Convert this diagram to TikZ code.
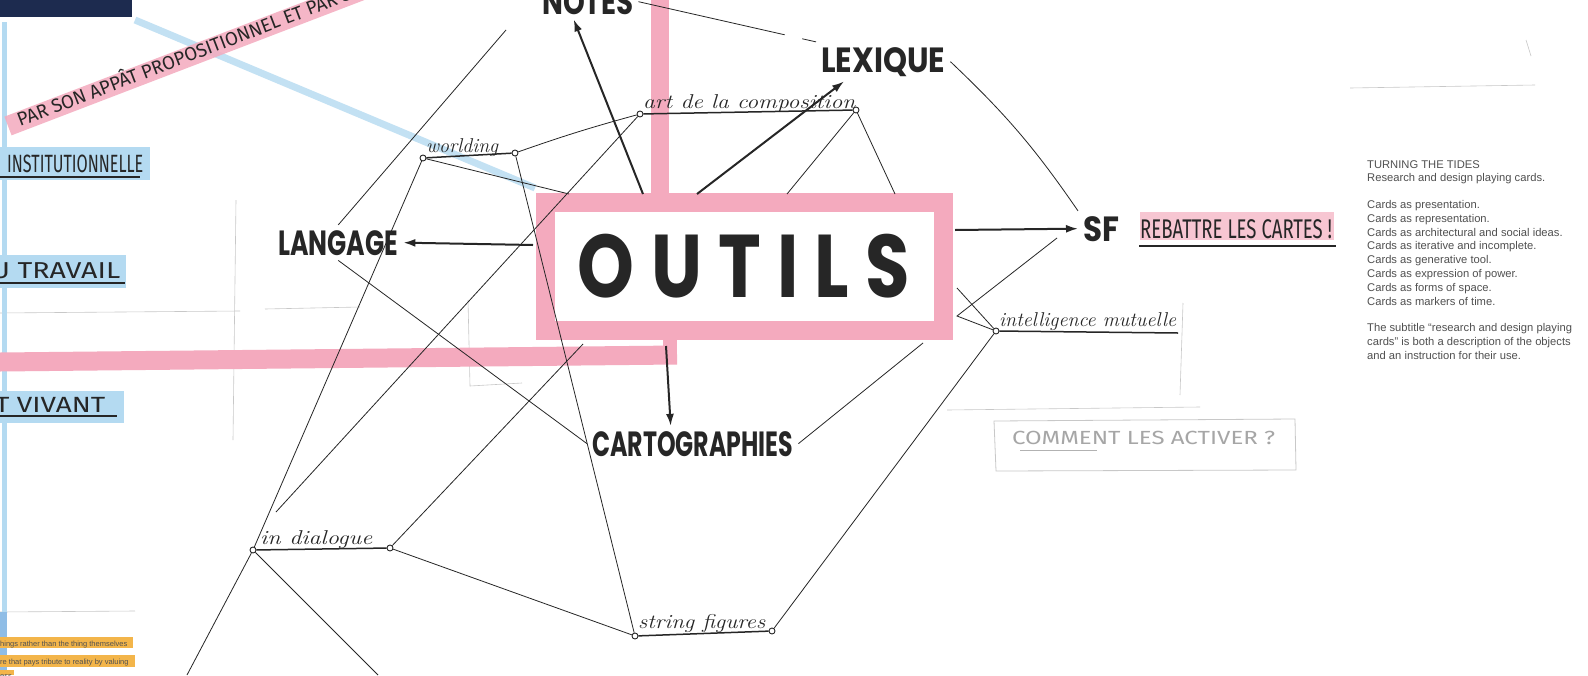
\documentclass[tikz,border=0pt]{standalone}
\usepackage{fontspec}
\usepackage{graphicx}
\usetikzlibrary{positioning, arrows.meta}
\newfontfamily\markerfont{Poppins}
\newfontfamily\thincaps{Fira Sans}
\newfontfamily\printfont{Liberation Sans}
\definecolor{ink}{HTML}{262626}
\definecolor{pinkM}{HTML}{F4AABE}
\definecolor{pinkL}{HTML}{F7C6D2}
\definecolor{blueM}{HTML}{B4DAF1}
\definecolor{blueD}{HTML}{8FBDE6}
\definecolor{navy}{HTML}{1D2B4F}
\definecolor{orangeM}{HTML}{F3B54A}
\definecolor{printgray}{HTML}{505050}
\definecolor{pencil}{HTML}{C8C8C8}
% squeeze a word to a given width, keeping its height
\newcommand{\squeeze}[2]{\resizebox{#1pt}{\height}{#2}}

\begin{document}
\begin{tikzpicture}[x=1pt, y=-1pt,
  bigword/.style={font=\markerfont\bfseries\fontsize{35}{35}\selectfont, text=ink, inner sep=5pt},
  capword/.style={font=\thincaps\fontsize{24}{24}\selectfont, text=ink, inner sep=0pt},
  penword/.style={font=\itshape\fontsize{20}{20}\selectfont, text=ink, inner sep=0pt},
  ring/.style={circle, draw=ink, line width=0.9pt, fill=white, inner sep=0pt, minimum size=6pt},
  underl/.style={draw=ink, line width=1.5pt},
  penline/.style={draw=ink, line width=0.8pt},
  sketch/.style={draw=pencil, line width=0.6pt},
  markarrow/.style={draw=ink, line width=2pt, -{Latex[length=12pt, width=8pt]}},
  printed/.style={font=\printfont\fontsize{11.2}{13.9}\selectfont, text=printgray, align=left, inner sep=0pt}]
\useasboundingbox (0,0) rectangle (1588,675);
\fill[white] (0,0) rectangle (1588,675);

% pencil traces
\draw[sketch] (0,313) -- (240,311);
\draw[sketch] (265,309) -- (360,307);
\draw[sketch] (236,200) -- (233,440);
\draw[sketch] (468,300) -- (470,386) -- (522,383);
\draw[sketch] (947,410) -- (1200,407);
\draw[sketch] (1183,303) -- (1180,395);
\draw[sketch] (1350,88) -- (1535,85);
\draw[sketch] (1526,40) -- (1531,56);
\draw[sketch] (0,612) -- (135,611);

% highlighter strokes
\fill[navy] (0,0) rectangle (132,17);
\draw[blueM, line width=5pt] (4,22) -- (4,612);
\fill[blueD] (0,612) rectangle (7,675);
\draw[blueM, line width=7pt, opacity=.8] (135,20) -- (535,188);
\draw[pinkM, line width=20pt, opacity=.85] (8,126) -- (420,-32);
\draw[pinkM, line width=18pt] (660,0) -- (660,196);
\draw[pinkM, line width=19pt] (0,362) -- (677,355);
\draw[pinkM, line width=14pt] (670,340) -- (670,358);
\fill[blueM] (0,147) rectangle (150,180);
\fill[blueM] (0,255) rectangle (126,288);
\fill[blueM] (0,391) rectangle (124,423);
\fill[pinkL] (1140,212) rectangle (1334,240);
\fill[orangeM] (0,637) rectangle (133,648);
\fill[orangeM] (0,655) rectangle (135,667);
\fill[orangeM] (0,670) rectangle (14,675);

% the central box
\node[draw=pinkM, fill=white, line width=19pt, minimum width=398pt, minimum height=128pt, inner sep=0pt,
  font=\markerfont\bfseries\fontsize{89}{89}\selectfont, text=ink] (outils) at (744,266)
  {\squeeze{332}{O\hspace{20pt}U\hspace{20pt}T\hspace{20pt}I\hspace{20pt}L\hspace{20pt}S}};

% branch words
\node[bigword, anchor=base west] (notes) at (537,14) {\squeeze{91}{NOTES}};
\node[bigword, anchor=base west] (lexique) at (816,72) {\squeeze{124}{LEXIQUE}};
\node[bigword, anchor=base west] (langage) at (273,255) {\squeeze{120}{LANGAGE}};
\node[bigword, anchor=base west] (sf) at (1078,241) {\squeeze{36}{SF}};
\node[bigword, anchor=base west] (carto) at (587,456) {\squeeze{201}{CARTOGRAPHIES}};

\coordinate (o-notes) at (643,194);
\coordinate (o-lex) at (697,194);
\coordinate (o-lang) at (533,245);
\coordinate (o-sf) at (955,230);
\coordinate (o-carto) at (666,346);
\draw[markarrow] (o-notes) -- ([xshift=-14pt]notes.south);
\draw[markarrow] (o-lex) -- ([xshift=28pt]lexique.south west);
\draw[markarrow] (o-lang) -- (langage.east);
\draw[markarrow] (o-sf) -- (sf.west);
\draw[markarrow] (o-carto) -- ([xshift=-22pt]carto.north);

% hand written keywords
\node[ring] (wl-a) at (423,158) {};
\node[ring] (wl-b) at (515,153) {};
\node[penword, anchor=base west] (worlding) at (426,152) {\squeeze{72}{worlding}};
\node[ring] (ac-a) at (640,114) {};
\node[ring] (ac-b) at (856,110) {};
\node[penword, anchor=base west] (art) at (643,108) {\squeeze{212}{art de la composition}};
\node[ring] (im-a) at (996,331) {};
\coordinate (im-b) at (1178,333);
\node[penword, anchor=base west] (intel) at (999,326) {\squeeze{177}{intelligence mutuelle}};
\node[ring] (id-a) at (253,550) {};
\node[ring] (id-b) at (390,548) {};
\node[penword, anchor=base west] (dialogue) at (260,544) {\squeeze{112}{in dialogue}};
\node[ring] (sg-a) at (635,636) {};
\node[ring] (sg-b) at (772,631) {};
\node[penword, anchor=base west] (string) at (638,628) {\squeeze{127}{string figures}};
\draw[underl] (wl-a) -- (wl-b);
\draw[underl] (ac-a) -- (ac-b);
\draw[underl] (im-a) -- (im-b);
\draw[underl] (id-a) -- (id-b);
\draw[underl] (sg-a) -- (sg-b);

% pen links
\coordinate (t1) at (506,30);
\coordinate (o-w) at (569,194);
\coordinate (o-sw) at (583,344);
\coordinate (o-se) at (923,343);
\coordinate (o-ne) at (895,194);
\coordinate (o-n2) at (787,194);
\coordinate (o-e) at (957,288);
\coordinate (kink) at (957,316);
\coordinate (sf-in) at (1057,238);
\coordinate (b-end) at (276,512);
\coordinate (bot-l) at (187,675);
\coordinate (bot-r) at (378,675);
\draw[penline] (t1) -- (langage.north);
\draw[penline] (langage.south) -- (carto.west);
\draw[penline] (wl-a) -- (id-a);
\draw[penline] (wl-a) -- (o-w);
\draw[penline] (wl-b) to[bend left=2] (ac-a);
\draw[penline] (wl-b) -- (sg-a);
\draw[penline] (ac-a) -- (b-end);
\draw[penline] (ac-b) -- (o-ne);
\draw[penline] (ac-b) -- (o-n2);
\draw[penline] (id-b) -- (o-sw);
\draw[penline] (id-b) -- (sg-a);
\draw[penline] (id-a) -- (bot-l);
\draw[penline] (id-a) -- (bot-r);
\draw[penline] (sg-b) -- (im-a);
\draw[penline] (carto.east) -- (o-se);
\draw[penline] (o-e) -- (im-a);
\draw[penline] (sf-in) -- (kink) -- (im-a);
\draw[penline] (lexique.east) to[bend left=6] (sf.north west);
\draw[penline, dash pattern=on 150pt off 18pt] (notes.east) -- (lexique.north west);

% side notes in capitals
\node[capword, rotate=21, anchor=base west, font=\thincaps\fontsize{19}{19}\selectfont] (appat) at (20,127)
  {\squeeze{382}{PAR SON APPÂT PROPOSITIONNEL ET PAR SON}};
\node[capword, anchor=base west, font=\thincaps\fontsize{25}{25}\selectfont] (inst) at (7,172) {\squeeze{136}{INSTITUTIONNELLE}};
\node[capword, anchor=base west, font=\thincaps\fontsize{23}{23}\selectfont] (travail) at (-9,278) {\squeeze{129}{U TRAVAIL}};
\node[capword, anchor=base west, font=\thincaps\fontsize{22}{22}\selectfont] (vivant) at (-5,412) {\squeeze{110}{T VIVANT}};
\node[capword, anchor=base west, font=\thincaps\fontsize{27}{27}\selectfont] (rebattre) at (1140,238) {\squeeze{192}{REBATTRE LES CARTES !}};
\node[capword, anchor=base west, font=\thincaps\fontsize{19}{19}\selectfont, text=gray!70] (activer) at (1012,444) {\squeeze{263}{COMMENT LES ACTIVER ?}};
\draw[ink, line width=1.4pt] (0,177) -- (140,177);
\draw[ink, line width=1.4pt] (0,283) -- (125,283);
\draw[ink, line width=1.4pt] (0,416) -- (117,416);
\draw[ink, line width=1.2pt] (1139,246) -- (1336,246);
\draw[gray!60, line width=0.8pt] (1020,450) -- (1097,450);
\draw[pencil, line width=0.8pt] (994,421) -- (1295,419) -- (1296,470) -- (996,471) -- cycle;

% printed cuttings
\node[printed, anchor=north west] (tides) at (1367,160) {TURNING THE TIDES\\
Research and design playing cards.\\[12.4pt]
Cards as presentation.\\
Cards as representation.\\
Cards as architectural and social ideas.\\
Cards as iterative and incomplete.\\
Cards as generative tool.\\
Cards as expression of power.\\
Cards as forms of space.\\
Cards as markers of time.\\[12.4pt]
The subtitle “research and design playing\\
cards” is both a description of the objects\\
and an instruction for their use.};
\node[printed, anchor=base west, font=\printfont\fontsize{7.5}{7.5}\selectfont, text=ink!80] (cut1) at (0,646) {hings rather than the thing themselves};
\node[printed, anchor=base west, font=\printfont\fontsize{7.5}{7.5}\selectfont, text=ink!80] (cut2) at (0,664) {re that pays tribute to reality by valuing};
\node[printed, anchor=base west, font=\printfont\fontsize{7.5}{7.5}\selectfont, text=ink!80] (cut3) at (0,678) {ess};
\end{tikzpicture}
\end{document}
